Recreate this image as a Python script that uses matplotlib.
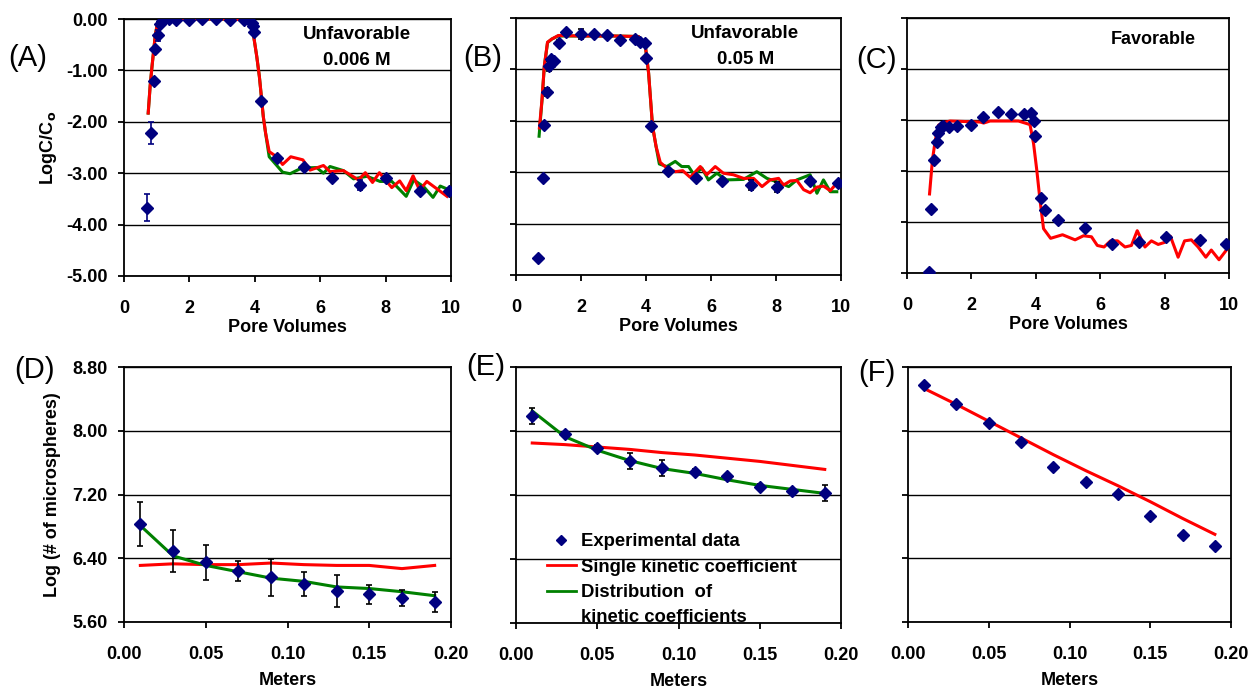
import matplotlib
matplotlib.use("Agg")
import matplotlib.pyplot as plt
from matplotlib.lines import Line2D

plt.rcParams['font.family'] = ['Liberation Sans', 'DejaVu Sans']
plt.rcParams['font.weight'] = 'bold'
plt.rcParams['axes.labelweight'] = 'bold'

NAVY = '#00007F'
RED = '#FF0000'
GREEN = '#008000'

# ---- (A) unfavorable 0.006 M ----
a_x = [0.69, 0.82, 0.91, 0.95, 1.05, 1.11, 1.16, 1.37, 1.58, 2.00, 2.40, 2.82, 3.24, 3.66,
       3.92, 3.95, 3.99, 4.19, 4.69, 5.50, 6.35, 7.21, 8.02, 9.05, 9.93]
a_y = [-3.67, -2.22, -1.21, -0.58, -0.32, -0.09, -0.03, 0.00, -0.02, -0.02, 0.00, 0.00, -0.02, -0.02,
       -0.08, -0.14, -0.25, -1.60, -2.70, -2.87, -3.09, -3.23, -3.10, -3.34, -3.34]
a_err = [0.26, 0.22, 0.03, 0.04, 0.10, 0.03, 0.02, 0.0, 0.0, 0.0, 0.0, 0.0, 0.0, 0.0,
         0.04, 0.04, 0.06, 0.03, 0.06, 0.03, 0.04, 0.10, 0.03, 0.04, 0.03]
a_red_x = [0.74, 0.80, 0.86, 0.91, 0.96, 1.02, 1.10, 1.30, 1.60, 2.00, 2.50, 3.00, 3.50, 3.80,
           3.90, 3.95, 4.06, 4.14, 4.21, 4.26, 4.33, 4.44, 4.67, 4.85, 5.10, 5.47, 5.69, 6.10,
           6.30, 6.71, 7.17, 7.38, 7.60, 7.81, 8.19, 8.43, 8.63, 8.84, 9.04, 9.26, 9.88]
a_red_y = [-1.83, -1.30, -0.90, -0.60, -0.30, -0.10, -0.03, 0.00, 0.00, 0.00, 0.00, 0.00, -0.01, -0.03,
           -0.12, -0.27, -0.73, -1.12, -1.57, -1.90, -2.22, -2.58, -2.68, -2.83, -2.68, -2.74, -2.94, -2.85,
           -2.97, -2.95, -3.13, -2.99, -3.18, -2.99, -3.28, -3.15, -3.34, -3.05, -3.33, -3.16, -3.45]
a_grn_x = [0.74, 0.80, 0.86, 0.91, 0.96, 1.02, 1.10, 1.30, 2.00, 3.00, 3.50, 3.80, 3.90, 3.95,
           4.06, 4.14, 4.21, 4.26, 4.33, 4.44, 4.85, 5.08, 5.43, 5.89, 6.10, 6.30, 6.71, 7.02,
           7.43, 7.83, 8.19, 8.63, 8.86, 9.16, 9.45, 9.67, 9.93]
a_grn_y = [-1.83, -1.30, -0.90, -0.60, -0.30, -0.10, -0.03, 0.00, 0.00, 0.00, -0.01, -0.03, -0.12, -0.27,
           -0.73, -1.12, -1.57, -1.90, -2.22, -2.68, -2.98, -3.01, -2.90, -2.89, -3.00, -2.87, -2.95, -3.11,
           -3.06, -3.16, -3.16, -3.45, -3.13, -3.26, -3.47, -3.25, -3.32]

# ---- (B) unfavorable 0.05 M ----
b_x = [0.69, 0.83, 0.86, 0.95, 1.00, 1.08, 1.18, 1.33, 1.55, 2.00, 2.40, 2.81, 3.21, 3.65,
       3.83, 3.96, 3.99, 4.16, 4.67, 5.54, 6.35, 7.22, 8.03, 9.05, 9.92]
b_y = [-4.66, -3.12, -2.09, -1.44, -0.93, -0.80, -0.84, -0.49, -0.27, -0.31, -0.32, -0.33, -0.43, -0.40,
       -0.47, -0.49, -0.78, -2.10, -2.97, -3.12, -3.17, -3.25, -3.29, -3.18, -3.21]
b_err = [0.0, 0.0, 0.0, 0.08, 0.10, 0.05, 0.03, 0.06, 0.03, 0.10, 0.04, 0.03, 0.04, 0.03,
         0.04, 0.05, 0.03, 0.02, 0.03, 0.04, 0.03, 0.10, 0.10, 0.03, 0.03]
b_red_x = [0.72, 0.80, 0.87, 0.97, 1.10, 1.30, 2.00, 3.00, 3.77, 3.97, 4.08, 4.20, 4.31, 4.44,
           4.64, 4.90, 5.13, 5.36, 5.67, 5.87, 6.13, 6.38, 6.69, 7.00, 7.31, 7.57, 7.82, 8.08,
           8.23, 8.44, 8.64, 8.85, 9.05, 9.26, 9.46, 9.67, 9.82]
b_red_y = [-2.14, -1.59, -0.94, -0.47, -0.41, -0.34, -0.35, -0.35, -0.36, -0.49, -1.07, -2.10, -2.50, -2.81,
           -2.92, -2.99, -2.97, -3.10, -2.89, -3.05, -2.89, -3.02, -3.05, -3.12, -3.12, -3.28, -3.15, -3.12,
           -3.25, -3.17, -3.16, -3.34, -3.40, -3.29, -3.27, -3.36, -3.25]
b_grn_x = [0.71, 0.80, 0.87, 0.97, 1.10, 1.30, 2.00, 3.00, 3.77, 3.97, 4.08, 4.20, 4.31, 4.41,
           4.64, 4.90, 5.10, 5.31, 5.48, 5.72, 5.92, 6.18, 6.48, 7.00, 7.41, 7.72, 8.13, 8.39,
           8.64, 9.05, 9.26, 9.46, 9.67, 9.87]
b_grn_y = [-2.30, -1.60, -0.95, -0.48, -0.41, -0.35, -0.35, -0.35, -0.36, -0.49, -1.07, -2.10, -2.50, -2.84,
           -2.89, -2.79, -2.89, -2.89, -3.05, -2.92, -3.15, -3.02, -3.15, -3.14, -2.99, -3.12, -3.21, -3.28,
           -3.15, -3.05, -3.41, -3.15, -3.38, -3.38]

# ---- (C) favorable ----
c_x = [0.67, 0.76, 0.85, 0.93, 0.97, 1.05, 1.13, 1.31, 1.55, 1.98, 2.36, 2.83, 3.24, 3.63,
       3.85, 3.95, 3.99, 4.17, 4.28, 4.70, 5.52, 6.38, 7.21, 8.05, 9.09, 9.92]
c_y = [-4.99, -3.74, -2.79, -2.43, -2.26, -2.13, -2.12, -2.13, -2.11, -2.10, -1.94, -1.85, -1.89, -1.89,
       -1.87, -2.02, -2.32, -3.53, -3.77, -3.96, -4.11, -4.43, -4.39, -4.29, -4.36, -4.44]
c_red_x = [0.70, 0.79, 0.88, 0.98, 1.14, 1.34, 2.27, 2.38, 2.58, 3.46, 3.82, 3.93, 4.03, 4.13,
           4.24, 4.46, 4.83, 5.22, 5.48, 5.73, 5.91, 6.12, 6.32, 6.54, 6.77, 6.97, 7.15, 7.39,
           7.59, 7.80, 8.00, 8.18, 8.42, 8.62, 8.83, 9.04, 9.28, 9.45, 9.69, 9.92]
c_red_y = [-3.45, -2.78, -2.39, -2.10, -2.05, -2.02, -2.04, -2.06, -2.02, -2.02, -2.09, -2.46, -2.98, -3.57,
           -4.13, -4.32, -4.25, -4.35, -4.27, -4.29, -4.46, -4.49, -4.37, -4.37, -4.49, -4.46, -4.17, -4.49,
           -4.37, -4.44, -4.40, -4.28, -4.69, -4.37, -4.35, -4.49, -4.69, -4.55, -4.74, -4.55]

# ---- bottom row: distance (m) ----
meters = [0.01, 0.03, 0.05, 0.07, 0.09, 0.11, 0.13, 0.15, 0.17, 0.19]

d_y = [6.83, 6.49, 6.35, 6.24, 6.16, 6.08, 5.99, 5.95, 5.90, 5.85]
d_err = [0.28, 0.26, 0.22, 0.12, 0.23, 0.15, 0.20, 0.12, 0.10, 0.13]
d_red = [6.31, 6.33, 6.32, 6.32, 6.34, 6.32, 6.31, 6.31, 6.27, 6.31]
d_grn = [6.81, 6.43, 6.31, 6.23, 6.15, 6.11, 6.04, 6.02, 5.98, 5.93]

e_y = [8.19, 7.96, 7.79, 7.62, 7.54, 7.49, 7.44, 7.30, 7.25, 7.22]
e_err = [0.10, 0.02, 0.04, 0.10, 0.10, 0.04, 0.02, 0.04, 0.02, 0.10]
e_red = [7.85, 7.83, 7.80, 7.77, 7.73, 7.70, 7.66, 7.62, 7.57, 7.52]
e_grn = [8.25, 7.93, 7.76, 7.63, 7.53, 7.47, 7.39, 7.32, 7.27, 7.22]

f_y = [8.58, 8.34, 8.10, 7.86, 7.54, 7.36, 7.21, 6.93, 6.69, 6.56]
f_red = [8.53, 8.33, 8.12, 7.91, 7.70, 7.50, 7.31, 7.11, 6.90, 6.70]

pv_ticks = [0, 2, 4, 6, 8, 10]
pv_labels = ['0', '2', '4', '6', '8', '10']
c_ticks = [0, -1, -2, -3, -4, -5]
c_labels = ['0.00', '-1.00', '-2.00', '-3.00', '-4.00', '-5.00']
m_ticks = [0.0, 0.05, 0.10, 0.15, 0.20]
m_labels = ['0.00', '0.05', '0.10', '0.15', '0.20']
n_ticks = [5.6, 6.4, 7.2, 8.0, 8.8]
n_labels = ['5.60', '6.40', '7.20', '8.00', '8.80']

W, H = 1249, 690
fig = plt.figure(figsize=(W / 100, H / 100), dpi=100)


def box(l, t, r, b):
    return fig.add_axes([l / W, 1 - b / H, (r - l) / W, (b - t) / H])


axA = box(124, 19, 451, 276)
axB = box(516, 18, 841, 275)
axC = box(907, 18, 1229, 273)
axD = box(124, 367, 451, 622)
axE = box(516, 367, 841, 623)
axF = box(908, 367, 1231, 622)


def style(ax, xt, xl, yt, yl, show_y):
    ax.set_xticks(xt)
    ax.set_xticklabels(xl)
    ax.set_yticks(yt)
    ax.set_yticklabels(yl if show_y else [])
    ax.set_xlim(xt[0], xt[-1])
    ax.set_ylim(min(yt), max(yt))
    ax.yaxis.grid(True, color='black', lw=1.0)
    ax.set_axisbelow(True)
    for s in ax.spines.values():
        s.set_linewidth(1.3)
    ax.tick_params(axis='both', direction='out', length=4, width=1.3, labelsize=13)
    ax.tick_params(axis='x', pad=13)
    ax.tick_params(axis='y', pad=8)


for i, ax in enumerate([axA, axB, axC]):
    style(ax, pv_ticks, pv_labels, c_ticks, c_labels, i == 0)
    ax.set_xlabel('Pore Volumes', fontsize=13, labelpad=2)
for i, ax in enumerate([axD, axE, axF]):
    style(ax, m_ticks, m_labels, n_ticks, n_labels, i == 0)
    ax.set_xlabel('Meters', fontsize=13, labelpad=7)

axA.set_ylabel('LogC/C$_\\mathbf{o}$', fontsize=13, labelpad=5)
axD.set_ylabel('Log (# of microspheres)', fontsize=13, labelpad=8)

mk = dict(fmt='D', color=NAVY, ms=6, capsize=2.5, elinewidth=1.2, capthick=1.2, zorder=4)

# top row
axA.plot(a_grn_x, a_grn_y, color=GREEN, lw=2.2, zorder=2)
axA.plot(a_red_x, a_red_y, color=RED, lw=2.2, zorder=3)
axA.errorbar(a_x, a_y, yerr=a_err, ecolor=NAVY, **mk)

axB.plot(b_grn_x, b_grn_y, color=GREEN, lw=2.2, zorder=2)
axB.plot(b_red_x, b_red_y, color=RED, lw=2.2, zorder=3)
axB.errorbar(b_x, b_y, yerr=b_err, ecolor='black', **mk)

axC.plot(c_red_x, c_red_y, color=RED, lw=2.2, zorder=3)
axC.plot(c_x, c_y, 'D', color=NAVY, ms=6, zorder=4)

# bottom row
axD.plot(meters, d_red, color=RED, lw=2.2, zorder=3)
axD.plot(meters, d_grn, color=GREEN, lw=2.2, zorder=3)
axD.errorbar(meters, d_y, yerr=d_err, ecolor='black', **mk)

axE.plot(meters, e_red, color=RED, lw=2.2, zorder=3)
axE.plot(meters, e_grn, color=GREEN, lw=2.2, zorder=3)
axE.errorbar(meters, e_y, yerr=e_err, ecolor='black', **mk)

axF.plot(meters, f_red, color=RED, lw=2.2, zorder=3)
axF.plot(meters, f_y, 'D', color=NAVY, ms=6, zorder=4)

# annotations
axA.text(7.12, -0.31, 'Unfavorable', ha='center', va='center', fontsize=13.5)
axA.text(7.12, -0.80, '0.006 M', ha='center', va='center', fontsize=13.5)
axB.text(7.05, -0.31, 'Unfavorable', ha='center', va='center', fontsize=13.5)
axB.text(7.05, -0.80, '0.05 M', ha='center', va='center', fontsize=13.5)
axC.text(7.64, -0.43, 'Favorable', ha='center', va='center', fontsize=13)

# panel letters
for lab, (px, py) in zip('ABCDEF', [(28, 58), (483, 58), (877, 60), (35, 370), (486, 367), (877, 373)]):
    fig.text(px / W, 1 - py / H, '(%s)' % lab, fontsize=21, fontweight='normal',
             ha='center', va='center')

handles = [
    Line2D([], [], ls='none', marker='D', color=NAVY, ms=5.5),
    Line2D([], [], color=RED, lw=2),
    Line2D([], [], color=GREEN, lw=2),
    Line2D([], [], color='none'),
]
labels = ['Experimental data', 'Single kinetic coefficient', 'Distribution  of', 'kinetic coefficients']
axE.legend(handles, labels, loc='upper left', bbox_to_anchor=(0.095, 0.35), frameon=False,
           fontsize=13.3, handlelength=1.55, handletextpad=0.3, labelspacing=0.45,
           borderaxespad=0, borderpad=0)

fig.savefig('out.png', dpi=100)
